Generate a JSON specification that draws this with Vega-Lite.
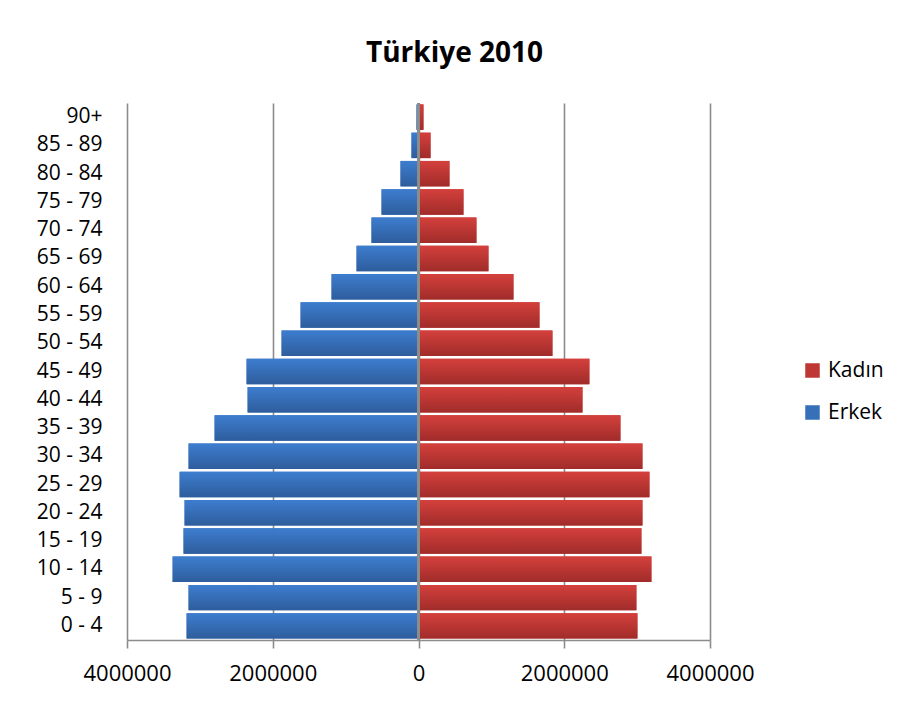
{
  "$schema": "https://vega.github.io/schema/vega-lite/v6.json",
  "autosize": "none",
  "width": 583,
  "height": 537,
  "padding": {"left": 127, "top": 103, "right": 198, "bottom": 68},
  "background": "white",
  "title": {
    "text": "Türkiye 2010",
    "font": "Open Sans",
    "fontSize": 28,
    "fontWeight": "bold",
    "color": "#000000",
    "anchor": "middle",
    "dx": 36,
    "offset": 34
  },
  "config": {
    "view": {"stroke": null},
    "font": "Open Sans"
  },
  "data": {
    "values": [
      {"age": "90+", "sex": "Erkek", "value": -27000},
      {"age": "85 - 89", "sex": "Erkek", "value": -96000},
      {"age": "80 - 84", "sex": "Erkek", "value": -247000},
      {"age": "75 - 79", "sex": "Erkek", "value": -507000},
      {"age": "70 - 74", "sex": "Erkek", "value": -645000},
      {"age": "65 - 69", "sex": "Erkek", "value": -850000},
      {"age": "60 - 64", "sex": "Erkek", "value": -1193000},
      {"age": "55 - 59", "sex": "Erkek", "value": -1618000},
      {"age": "50 - 54", "sex": "Erkek", "value": -1879000},
      {"age": "45 - 49", "sex": "Erkek", "value": -2359000},
      {"age": "40 - 44", "sex": "Erkek", "value": -2345000},
      {"age": "35 - 39", "sex": "Erkek", "value": -2798000},
      {"age": "30 - 34", "sex": "Erkek", "value": -3155000},
      {"age": "25 - 29", "sex": "Erkek", "value": -3278000},
      {"age": "20 - 24", "sex": "Erkek", "value": -3210000},
      {"age": "15 - 19", "sex": "Erkek", "value": -3224000},
      {"age": "10 - 14", "sex": "Erkek", "value": -3374000},
      {"age": "5 - 9", "sex": "Erkek", "value": -3155000},
      {"age": "0 - 4", "sex": "Erkek", "value": -3182000},
      {"age": "90+", "sex": "Kadın", "value": 68000},
      {"age": "85 - 89", "sex": "Kadın", "value": 165000},
      {"age": "80 - 84", "sex": "Kadın", "value": 425000},
      {"age": "75 - 79", "sex": "Kadın", "value": 617000},
      {"age": "70 - 74", "sex": "Kadın", "value": 795000},
      {"age": "65 - 69", "sex": "Kadın", "value": 960000},
      {"age": "60 - 64", "sex": "Kadın", "value": 1303000},
      {"age": "55 - 59", "sex": "Kadın", "value": 1660000},
      {"age": "50 - 54", "sex": "Kadın", "value": 1838000},
      {"age": "45 - 49", "sex": "Kadın", "value": 2345000},
      {"age": "40 - 44", "sex": "Kadın", "value": 2250000},
      {"age": "35 - 39", "sex": "Kadın", "value": 2771000},
      {"age": "30 - 34", "sex": "Kadın", "value": 3073000},
      {"age": "25 - 29", "sex": "Kadın", "value": 3169000},
      {"age": "20 - 24", "sex": "Kadın", "value": 3073000},
      {"age": "15 - 19", "sex": "Kadın", "value": 3059000},
      {"age": "10 - 14", "sex": "Kadın", "value": 3196000},
      {"age": "5 - 9", "sex": "Kadın", "value": 2990000},
      {"age": "0 - 4", "sex": "Kadın", "value": 3004000}
    ]
  },
  "encoding": {
    "y": {
      "field": "age",
      "type": "nominal",
      "sort": null,
      "scale": {"paddingInner": 0.1, "paddingOuter": 0.05},
      "axis": {
        "title": null,
        "domain": false,
        "ticks": false,
        "labelFontSize": 21,
        "labelColor": "#000000",
        "labelPadding": 25,
        "labelFont": "Open Sans"
      }
    },
    "x": {
      "field": "value",
      "type": "quantitative",
      "scale": {"domain": [-4000000, 4000000], "nice": false},
      "axis": {
        "title": null,
        "values": [-4000000, -2000000, 0, 2000000, 4000000],
        "labelExpr": "format(abs(datum.value), 'd')",
        "labelFlush": false,
        "labelOverlap": false,
        "labelFontSize": 22,
        "labelColor": "#000000",
        "labelFont": "Open Sans",
        "labelPadding": 15,
        "grid": true,
        "gridColor": "#8c8c8c",
        "gridWidth": 1.6,
        "domainColor": "#8c8c8c",
        "domainWidth": 1.6,
        "tickColor": "#8c8c8c",
        "tickWidth": 1.6,
        "tickSize": 8
      }
    }
  },
  "layer": [
    {
      "mark": {"type": "bar"},
      "encoding": {
        "fill": {
          "field": "sex",
          "type": "nominal",
          "scale": {
            "domain": ["Kadın", "Erkek"],
            "range": ["#BF3734", "#3670B8"]
          },
          "legend": {
            "title": null,
            "orient": "none",
            "legendX": 675,
            "legendY": 257,
            "symbolType": "square",
            "symbolSize": 210,
            "symbolStrokeWidth": 0,
            "labelFontSize": 21,
            "labelColor": "#000000",
            "labelFont": "Open Sans",
            "rowPadding": 20,
            "labelOffset": 5
          }
        }
      }
    },
    {
      "transform": [{"filter": "datum.sex === 'Kadın'"}],
      "mark": {
        "type": "bar",
        "fill": {"gradient": "linear", "x1": 0, "y1": 0, "x2": 0, "y2": 1, "stops": [{"offset": 0, "color": "#D4403C"}, {"offset": 1, "color": "#A02C2A"}]}
      }
    },
    {
      "transform": [{"filter": "datum.sex === 'Erkek'"}],
      "mark": {
        "type": "bar",
        "fill": {"gradient": "linear", "x1": 0, "y1": 0, "x2": 0, "y2": 1, "stops": [{"offset": 0, "color": "#3D7DCF"}, {"offset": 1, "color": "#2E5D9C"}]}
      }
    },
    {
      "mark": {"type": "rule", "color": "#8c8c8c", "strokeWidth": 2},
      "encoding": {"x": {"datum": 0}, "y": null}
    }
  ]
}
